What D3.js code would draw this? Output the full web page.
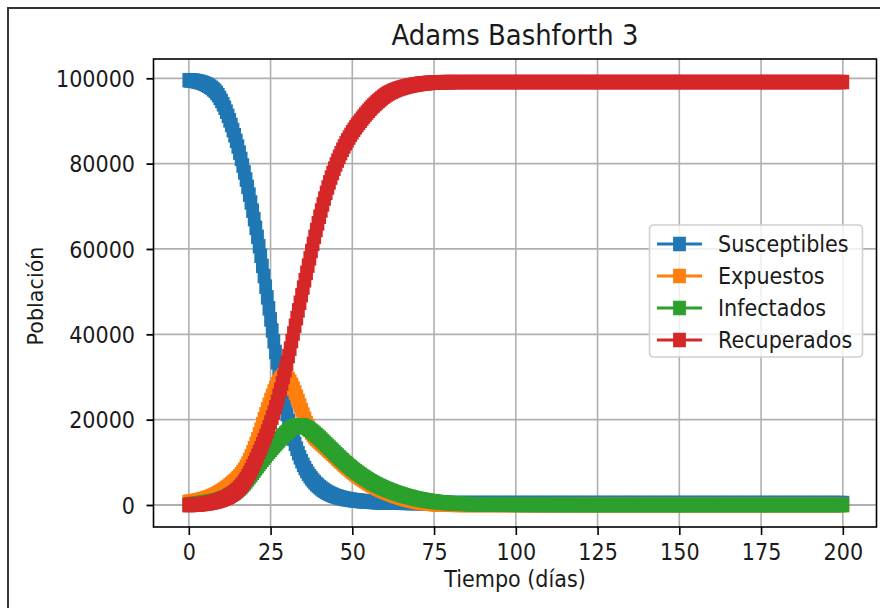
<!DOCTYPE html>
<html>
<head>
<meta charset="utf-8">
<script src="https://cdn.jsdelivr.net/npm/d3@7"></script>
<style>
body { margin: 0; background: #fff; }
</style>
</head>
<body>
<div id="graphWrapper"></div>
<script>
// half-day steps while the epidemic moves (day 0 .. 79.5), then one value per day up to 200
var days = d3.range(0, 80, 0.5).concat(d3.range(80, 201));

var susceptibles = [
    99550, 99515, 99470, 99420, 99360, 99285, 99200, 99095, 98980, 98835,
    98680, 98490, 98280, 98025, 97750, 97410, 97050, 96570, 96050, 95400,
    94700, 93920, 93100, 92170, 91200, 90140, 89050, 87870, 86650, 85340,
    84000, 82570, 81100, 79540, 77950, 76270, 74550, 72750, 70900, 68970,
    67000, 64950, 62850, 60650, 58400, 56050, 53650, 51170, 48650, 46080,
    43500, 40910, 38350, 35860, 33450, 31150, 28950, 26880, 24900, 23070,
    21350, 19760, 18250, 16860, 15550, 14340, 13200, 12150, 11150, 10250,
    9400, 8650, 7950, 7330, 6750, 6230, 5750, 5310, 4900, 4540,
    4200, 3890, 3600, 3340, 3100, 2880, 2680, 2500, 2330, 2180,
    2040, 1910, 1800, 1700, 1600, 1510, 1430, 1360, 1290, 1230,
    1170, 1120, 1070, 1025, 985, 945, 910, 875, 845, 815,
    790, 765, 740, 720, 700, 680, 665, 650, 635, 622,
    610, 599, 588, 578, 568, 559, 551, 543, 536, 529,
    523, 517, 512, 507, 502, 498, 494, 490, 487, 484,
    481, 478, 476, 474, 472, 470, 468, 466, 465, 464,
    463, 462, 461, 460, 459, 459, 458, 458, 457, 457,
    456, 455, 455, 455, 455, 455, 455, 455, 455, 455,
    455, 455, 455, 455, 455, 455, 455, 455, 455, 455,
    455, 455, 455, 455, 455, 455, 455, 455, 455, 455,
    455, 455, 455, 455, 455, 455, 455, 455, 455, 455,
    455, 455, 455, 455, 455, 455, 455, 455, 455, 455,
    455, 455, 455, 455, 455, 455, 455, 455, 455, 455,
    455, 455, 455, 455, 455, 455, 455, 455, 455, 455,
    455, 455, 455, 455, 455, 455, 455, 455, 455, 455,
    455, 455, 455, 455, 455, 455, 455, 455, 455, 455,
    455, 455, 455, 455, 455, 455, 455, 455, 455, 455,
    455, 455, 455, 455, 455, 455, 455, 455, 455, 455,
    455, 455, 455, 455, 455, 455, 455, 455, 455, 455,
    455
];
var expuestos = [
    700, 750, 800, 865, 930, 1005, 1080, 1170, 1260, 1365,
    1470, 1595, 1720, 1865, 2010, 2180, 2350, 2545, 2740, 2965,
    3190, 3445, 3700, 3980, 4260, 4570, 4880, 5220, 5560, 5930,
    6300, 6740, 7200, 7740, 8300, 8990, 9700, 10540, 11400, 12340,
    13300, 14340, 15400, 16540, 17700, 18900, 20100, 21250, 22400, 23500,
    24600, 25600, 26600, 27450, 28300, 28950, 29600, 29950, 30300, 30200,
    30000, 29500, 28900, 28150, 27300, 26350, 25400, 24350, 23300, 22250,
    21200, 20200, 19200, 18350, 17600, 16980, 16400, 15930, 15500, 15140,
    14800, 14450, 14100, 13750, 13400, 13050, 12700, 12350, 12000, 11620,
    11250, 10870, 10500, 10150, 9800, 9450, 9100, 8770, 8450, 8120,
    7800, 7500, 7200, 6920, 6650, 6370, 6100, 5850, 5600, 5350,
    5100, 4870, 4650, 4450, 4250, 4050, 3850, 3670, 3500, 3320,
    3150, 3000, 2850, 2700, 2550, 2400, 2250, 2120, 2000, 1870,
    1750, 1620, 1500, 1400, 1300, 1200, 1100, 1000, 900, 820,
    750, 670, 600, 540, 480, 430, 380, 340, 300, 260,
    230, 200, 170, 150, 130, 115, 100, 85, 70, 60,
    50, 35, 25, 15, 10, 5, 0, 0, 0, 0,
    0, 0, 0, 0, 0, 0, 0, 0, 0, 0,
    0, 0, 0, 0, 0, 0, 0, 0, 0, 0,
    0, 0, 0, 0, 0, 0, 0, 0, 0, 0,
    0, 0, 0, 0, 0, 0, 0, 0, 0, 0,
    0, 0, 0, 0, 0, 0, 0, 0, 0, 0,
    0, 0, 0, 0, 0, 0, 0, 0, 0, 0,
    0, 0, 0, 0, 0, 0, 0, 0, 0, 0,
    0, 0, 0, 0, 0, 0, 0, 0, 0, 0,
    0, 0, 0, 0, 0, 0, 0, 0, 0, 0,
    0, 0, 0, 0, 0, 0, 0, 0, 0, 0,
    0, 0, 0, 0, 0, 0, 0, 0, 0, 0,
    0
];
var infectados = [
    0, 65, 130, 190, 250, 305, 360, 415, 470, 525,
    580, 640, 700, 765, 830, 905, 980, 1065, 1150, 1280,
    1400, 1550, 1700, 1870, 2050, 2250, 2450, 2680, 2930, 3200,
    3500, 3840, 4200, 4610, 5050, 5520, 6000, 6500, 7000, 7520,
    8050, 8580, 9100, 9600, 10100, 10600, 11100, 11580, 12050, 12500,
    12950, 13400, 13850, 14280, 14700, 15130, 15550, 15950, 16350, 16730,
    17100, 17470, 17800, 18070, 18300, 18470, 18600, 18670, 18700, 18650,
    18550, 18380, 18150, 17910, 17650, 17360, 17050, 16730, 16400, 16050,
    15700, 15330, 14950, 14580, 14200, 13830, 13450, 13080, 12700, 12330,
    11950, 11580, 11200, 10850, 10500, 10150, 9800, 9480, 9150, 8830,
    8500, 8200, 7900, 7620, 7350, 7070, 6800, 6550, 6300, 6050,
    5800, 5570, 5350, 5150, 4950, 4750, 4550, 4370, 4200, 4020,
    3850, 3700, 3550, 3400, 3250, 3100, 2950, 2820, 2700, 2570,
    2450, 2320, 2200, 2100, 2000, 1900, 1800, 1700, 1600, 1520,
    1450, 1370, 1300, 1220, 1150, 1080, 1020, 960, 900, 850,
    800, 750, 700, 660, 620, 580, 550, 510, 480, 450,
    420, 370, 320, 280, 250, 220, 190, 170, 150, 130,
    115, 100, 90, 80, 70, 60, 55, 50, 45, 40,
    35, 30, 27, 24, 21, 18, 16, 14, 12, 10,
    9, 8, 7, 6, 5, 4, 4, 3, 3, 2,
    2, 2, 1, 1, 1, 1, 1, 1, 0, 0,
    0, 0, 0, 0, 0, 0, 0, 0, 0, 0,
    0, 0, 0, 0, 0, 0, 0, 0, 0, 0,
    0, 0, 0, 0, 0, 0, 0, 0, 0, 0,
    0, 0, 0, 0, 0, 0, 0, 0, 0, 0,
    0, 0, 0, 0, 0, 0, 0, 0, 0, 0,
    0, 0, 0, 0, 0, 0, 0, 0, 0, 0,
    0, 0, 0, 0, 0, 0, 0, 0, 0, 0,
    0
];
var recuperados = [
    0, 20, 40, 65, 90, 120, 150, 190, 230, 280,
    330, 390, 450, 525, 600, 690, 780, 890, 1000, 1130,
    1260, 1410, 1560, 1740, 1920, 2150, 2380, 2660, 2950, 3290,
    3650, 4040, 4450, 4960, 5500, 6110, 6750, 7460, 8200, 8990,
    9800, 10640, 11500, 12390, 13300, 14240, 15200, 16190, 17200, 18260,
    19350, 20480, 21650, 22900, 24200, 25580, 27000, 28480, 30000, 31580,
    33200, 34910, 36650, 38420, 40200, 42000, 43800, 45600, 47400, 49180,
    50950, 52680, 54400, 56100, 57800, 59510, 61200, 62840, 64450, 66010,
    67550, 69020, 70450, 71820, 73150, 74400, 75600, 76720, 77800, 78820,
    79800, 80720, 81600, 82440, 83250, 84020, 84750, 85440, 86100, 86740,
    87350, 87940, 88500, 89040, 89550, 90060, 90550, 91030, 91500, 91960,
    92400, 92830, 93250, 93630, 94000, 94360, 94700, 95030, 95350, 95660,
    95950, 96210, 96450, 96660, 96850, 97030, 97200, 97360, 97500, 97630,
    97750, 97860, 97970, 98070, 98160, 98250, 98330, 98410, 98480, 98550,
    98610, 98670, 98720, 98770, 98810, 98850, 98890, 98920, 98950, 98980,
    99000, 99020, 99040, 99055, 99070, 99080, 99090, 99095, 99100, 99102,
    99105, 99110, 99113, 99116, 99118, 99120, 99120, 99120, 99120, 99120,
    99120, 99120, 99120, 99120, 99120, 99120, 99120, 99120, 99120, 99120,
    99120, 99120, 99120, 99120, 99120, 99120, 99120, 99120, 99120, 99120,
    99120, 99120, 99120, 99120, 99120, 99120, 99120, 99120, 99120, 99120,
    99120, 99120, 99120, 99120, 99120, 99120, 99120, 99120, 99120, 99120,
    99120, 99120, 99120, 99120, 99120, 99120, 99120, 99120, 99120, 99120,
    99120, 99120, 99120, 99120, 99120, 99120, 99120, 99120, 99120, 99120,
    99120, 99120, 99120, 99120, 99120, 99120, 99120, 99120, 99120, 99120,
    99120, 99120, 99120, 99120, 99120, 99120, 99120, 99120, 99120, 99120,
    99120, 99120, 99120, 99120, 99120, 99120, 99120, 99120, 99120, 99120,
    99120, 99120, 99120, 99120, 99120, 99120, 99120, 99120, 99120, 99120,
    99120, 99120, 99120, 99120, 99120, 99120, 99120, 99120, 99120, 99120,
    99120
];

var seriesNames = ["Susceptibles", "Expuestos", "Infectados", "Recuperados"];
var seriesColors = ["#1f77b4", "#ff7f0e", "#2ca02c", "#d62728"];
var xTicks = [0, 25, 50, 75, 100, 125, 150, 175, 200];
var yTicks = [0, 20000, 40000, 60000, 80000, 100000];

var w = 880;
var h = 608;
var margin = {
    top: 59,
    bottom: 81,
    left: 153.5,
    right: 3.5
};
var width = w - margin.left - margin.right;
var height = h - margin.top - margin.bottom;
var squeeze = 0.9;   // the picture is a little narrower than it is tall
var fontSize = 23;
var markerW = 12.8;
var markerH = 14.5;

var svg = d3.select("#graphWrapper").append("svg")
    .attr("width", w)
    .attr("height", h)
    .style("display", "block")
    .style("font-family", "'DejaVu Sans', sans-serif");

svg.append("rect")
    .attr("width", w)
    .attr("height", h)
    .attr("fill", "#fff");

// frame of the screenshot
svg.append("path")
    .attr("d", "M8," + h + "V8H" + w)
    .attr("fill", "none")
    .attr("stroke", "#333")
    .attr("stroke-width", 2);

var chart = svg.append("g")
    .attr("transform", "translate(" + margin.left + "," + margin.top + ")");

var x = d3.scaleLinear()
    .domain([-10.8, 210.3])
    .range([0, width]);
var y = d3.scaleLinear()
    .domain([-5156, 104520])
    .range([height, 0]);

//grid
chart.append("g")
    .selectAll("line")
    .data(xTicks)
    .enter()
    .append("line")
    .attr("x1", function(d){ return x(d); })
    .attr("x2", function(d){ return x(d); })
    .attr("y1", 0)
    .attr("y2", height)
    .attr("stroke", "#b0b0b0")
    .attr("stroke-width", 1.6);
chart.append("g")
    .selectAll("line")
    .data(yTicks)
    .enter()
    .append("line")
    .attr("x1", 0)
    .attr("x2", width)
    .attr("y1", function(d){ return y(d); })
    .attr("y2", function(d){ return y(d); })
    .attr("stroke", "#b0b0b0")
    .attr("stroke-width", 1.8);

//series, line first then square markers
var series = [susceptibles, expuestos, infectados, recuperados];
var line = d3.line()
    .x(function(d, i){ return x(days[i]); })
    .y(function(d){ return y(d); });

series.forEach(function(values, k){
    var g = chart.append("g").attr("class", "series");
    g.append("path")
        .datum(values)
        .attr("d", line)
        .attr("fill", "none")
        .attr("stroke", seriesColors[k])
        .attr("stroke-width", 3);
    g.selectAll("rect")
        .data(values)
        .enter()
        .append("rect")
        .attr("x", function(d, i){ return x(days[i]) - markerW / 2; })
        .attr("y", function(d){ return y(d) - markerH / 2; })
        .attr("width", markerW)
        .attr("height", markerH)
        .attr("fill", seriesColors[k]);
});

//axes
var xAxis = d3.axisBottom(x)
    .tickValues(xTicks)
    .tickSize(8)
    .tickFormat(d3.format("d"));
var yAxis = d3.axisLeft(y)
    .tickValues(yTicks)
    .tickSize(7)
    .tickFormat(d3.format("d"));

var gx = chart.append("g")
    .attr("transform", "translate(0," + height + ")")
    .attr("color", "#000")
    .call(xAxis);
gx.select(".domain").remove();
gx.selectAll(".tick line").attr("stroke-width", 1.6);
gx.selectAll(".tick text")
    .attr("y", 33)
    .attr("dy", null)
    .attr("font-size", fontSize)
    .attr("font-family", "'DejaVu Sans', sans-serif")
    .attr("fill", "#1a1a1a")
    .attr("transform", "scale(" + squeeze + ",1)");

var gy = chart.append("g")
    .attr("color", "#000")
    .call(yAxis);
gy.select(".domain").remove();
gy.selectAll(".tick line").attr("stroke-width", 1.8);
gy.selectAll(".tick text")
    .attr("x", -18.5 / squeeze)
    .attr("dy", "0.36em")
    .attr("font-size", fontSize)
    .attr("font-family", "'DejaVu Sans', sans-serif")
    .attr("fill", "#1a1a1a")
    .attr("transform", "scale(" + squeeze + ",1)");

// spines
chart.append("rect")
    .attr("width", width)
    .attr("height", height)
    .attr("fill", "none")
    .attr("stroke", "#000")
    .attr("stroke-width", 1.6);

//title and labels
svg.append("text")
    .attr("transform", "translate(" + (margin.left + width / 2) + ",45) scale(" + squeeze + ",1)")
    .attr("text-anchor", "middle")
    .attr("font-size", 28.8)
    .attr("fill", "#1a1a1a")
    .text("Adams Bashforth 3");
svg.append("text")
    .attr("transform", "translate(" + (margin.left + width / 2) + ",587) scale(" + squeeze + ",1)")
    .attr("text-anchor", "middle")
    .attr("font-size", fontSize)
    .attr("fill", "#1a1a1a")
    .text("Tiempo (días)");
svg.append("text")
    .attr("transform", "translate(42.7,296) scale(" + squeeze + ",1) rotate(-90) scale(" + squeeze + ",1)")
    .attr("text-anchor", "middle")
    .attr("font-size", fontSize)
    .attr("fill", "#1a1a1a")
    .text("Población");

//legend
var legend = svg.append("g")
    .attr("transform", "translate(649.5,225)");
legend.append("rect")
    .attr("width", 213)
    .attr("height", 132)
    .attr("rx", 4)
    .attr("fill", "#fff")
    .attr("fill-opacity", 0.8)
    .attr("stroke", "#d0d0d0")
    .attr("stroke-width", 1.6);
var rows = legend.selectAll(".row")
    .data(seriesNames)
    .enter()
    .append("g")
    .attr("class", "row")
    .attr("transform", function(d, i){ return "translate(0," + (19 + i * 32) + ")"; });
rows.append("line")
    .attr("x1", 7.5)
    .attr("x2", 52.5)
    .attr("stroke", function(d, i){ return seriesColors[i]; })
    .attr("stroke-width", 3);
rows.append("rect")
    .attr("x", 30 - markerW / 2)
    .attr("y", -markerH / 2)
    .attr("width", markerW)
    .attr("height", markerH)
    .attr("fill", function(d, i){ return seriesColors[i]; });
rows.append("text")
    .attr("transform", "translate(68.5,8.3) scale(" + squeeze + ",1)")
    .attr("font-size", fontSize)
    .attr("fill", "#1a1a1a")
    .text(function(d){ return d; });
</script>
</body>
</html>
